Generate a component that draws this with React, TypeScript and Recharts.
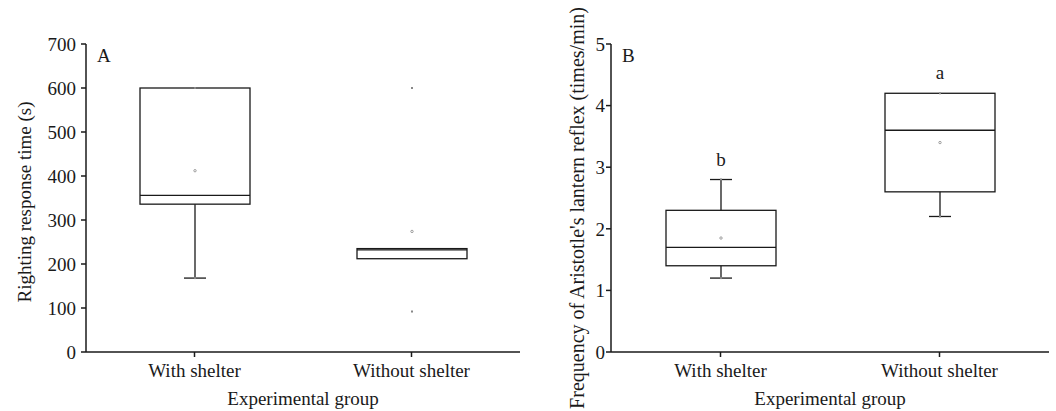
import { ComposedChart, Bar, XAxis, YAxis, Customized } from 'recharts';

const groups = ['With shelter', 'Without shelter'];

// Panel A: righting response time (s)
const aLow = [168, 212];
const aQ1 = [336, 212];
const aMedian = [356, 232];
const aQ3 = [600, 235];
const aHigh = [600, 235];
const aMean = [412, 274];
const aMin = [168, 92];
const aMax = [600, 600];
const aTicks = [0, 100, 200, 300, 400, 500, 600, 700];

// Panel B: frequency of Aristotle's lantern reflex (times/min)
const bLow = [1.2, 2.2];
const bQ1 = [1.4, 2.6];
const bMedian = [1.7, 3.6];
const bQ3 = [2.3, 4.2];
const bHigh = [2.8, 4.2];
const bMean = [1.85, 3.4];
const bMin = [1.2, 2.2];
const bMax = [2.8, 4.2];
const bLetters = ['b', 'a'];
const bTicks = [0, 1, 2, 3, 4, 5];

const FONT = '"Liberation Serif", "Times New Roman", serif';
const INK = '#1a1a1a';

function rows(low, q1, med, q3, high, mean, min, max, letters?) {
  return groups.map((g, i) => ({
    group: g,
    range: [low[i], high[i]],
    low: low[i],
    q1: q1[i],
    median: med[i],
    q3: q3[i],
    high: high[i],
    mean: mean[i],
    min: min[i],
    max: max[i],
    letter: letters ? letters[i] : null,
  }));
}

const dataA = rows(aLow, aQ1, aMedian, aQ3, aHigh, aMean, aMin, aMax);
const dataB = rows(bLow, bQ1, bMedian, bQ3, bHigh, bMean, bMin, bMax, bLetters);

function BoxShape(props) {
  const { x, y, width, height, payload } = props;
  const top = Math.min(y, y + height);
  const h = Math.abs(height);
  const lo = payload.low;
  const hi = payload.high;
  const k = hi === lo ? 0 : h / (hi - lo);
  const py = (v) => top + (hi - v) * k;
  const cx = x + width / 2;
  const cap = 11;
  const mark = (v, key) => (
    <rect key={key} x={cx - 1} y={py(v) - 1} width={2} height={2} fill="#888" />
  );
  return (
    <g>
      {hi > payload.q3 && (
        <>
          <line x1={cx} x2={cx} y1={py(hi)} y2={py(payload.q3)} stroke={INK} strokeWidth={1.3} />
          <line x1={cx - cap} x2={cx + cap} y1={py(hi)} y2={py(hi)} stroke={INK} strokeWidth={1.3} />
        </>
      )}
      {lo < payload.q1 && (
        <>
          <line x1={cx} x2={cx} y1={py(payload.q1)} y2={py(lo)} stroke={INK} strokeWidth={1.3} />
          <line x1={cx - cap} x2={cx + cap} y1={py(lo)} y2={py(lo)} stroke={INK} strokeWidth={1.3} />
        </>
      )}
      <rect
        x={x}
        y={py(payload.q3)}
        width={width}
        height={py(payload.q1) - py(payload.q3)}
        fill="none"
        stroke={INK}
        strokeWidth={1.3}
      />
      <line x1={x} x2={x + width} y1={py(payload.median)} y2={py(payload.median)} stroke={INK} strokeWidth={1.3} />
      {mark(payload.min, 'min')}
      {mark(payload.max, 'max')}
      <circle cx={cx} cy={py(payload.mean)} r={1.2} fill="none" stroke="#888" strokeWidth={0.8} />
      {payload.letter && (
        <text x={cx} y={py(payload.max) - 14} textAnchor="middle" fontSize={19} fontFamily={FONT} fill={INK}>
          {payload.letter}
        </text>
      )}
    </g>
  );
}

const tickStyle = { fill: INK, fontSize: 19, fontFamily: FONT };
const axisLine = { stroke: INK, strokeWidth: 1.5 };

function xLabel(props) {
  const vb = props.viewBox;
  return (
    <text x={vb.x + vb.width / 2} y={vb.y + 53} textAnchor="middle" fontSize={19} fontFamily={FONT} fill={INK}>
      Experimental group
    </text>
  );
}

function yLabel(text, cx, cy, size) {
  return () => (
    <text
      x={cx}
      y={cy}
      transform={`rotate(-90 ${cx} ${cy})`}
      textAnchor="middle"
      dominantBaseline="central"
      fontSize={size}
      fontFamily={FONT}
      fill={INK}
    >
      {text}
    </text>
  );
}

function Panel({ data, ticks, domain, width, yWidth, right, label, labelX, labelY, labelSize, letter, letterX, tickMargin }) {
  return (
    <ComposedChart
      width={width}
      height={411}
      data={data}
      margin={{ top: 44, right, bottom: 29, left: 0 }}
      style={{ fontFamily: FONT }}
    >
      <XAxis
        dataKey="group"
        height={30}
        tick={tickStyle}
        tickSize={5}
        tickMargin={7}
        axisLine={axisLine}
        tickLine={axisLine}
        label={{ content: xLabel }}
      />
      <YAxis
        type="number"
        domain={domain}
        ticks={ticks}
        width={yWidth}
        tick={tickStyle}
        tickSize={5}
        tickMargin={tickMargin}
        axisLine={axisLine}
        tickLine={axisLine}
        interval={0}
        label={{ content: yLabel(label, labelX, labelY, labelSize) }}
      />
      <Bar dataKey="range" barSize={110} shape={BoxShape} isAnimationActive={false} />
      <Customized
        component={
          <text x={letterX} y={62} fontSize={19} fontFamily={FONT} fill={INK}>
            {letter}
          </text>
        }
      />
    </ComposedChart>
  );
}

export default function App() {
  return (
    <div style={{ position: 'absolute', left: 0, top: 0, width: 1056, height: 411, background: '#fff', display: 'flex' }}>
      <Panel
        data={dataA}
        ticks={aTicks}
        domain={[0, 700]}
        width={540}
        yWidth={86}
        right={20}
        label="Righting response time (s)"
        labelX={24}
        labelY={202}
        labelSize={19}
        letter="A"
        letterX={97}
        tickMargin={5}
      />
      <Panel
        data={dataB}
        ticks={bTicks}
        domain={[0, 5]}
        width={516}
        yWidth={71}
        right={7}
        label="Frequency of Aristotle's lantern reflex (times/min)"
        labelX={37}
        labelY={208}
        labelSize={20}
        letter="B"
        letterX={82}
        tickMargin={1}
      />
    </div>
  );
}
